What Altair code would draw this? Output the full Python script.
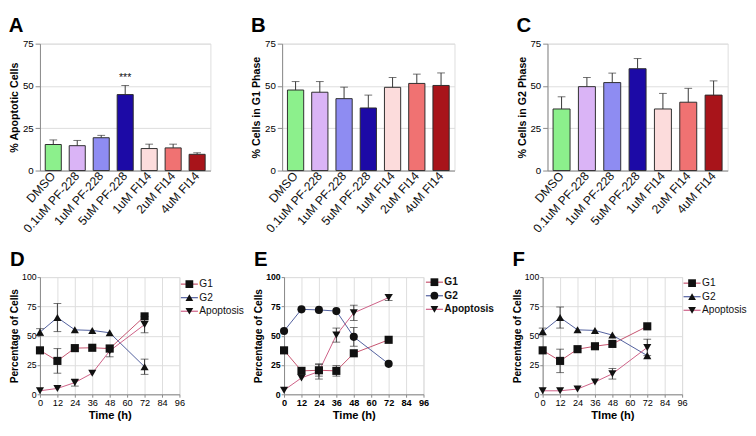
import altair as alt
import pandas as pd

FONT = "Liberation Sans"

# ---------------- data ----------------
categories = ["DMSO", "0.1uM PF-228", "1uM PF-228", "5uM PF-228", "1uM FI14", "2uM FI14", "4uM FI14"]
bar_colors = ["#8cf08c", "#dab4f6", "#8e8cf2", "#1c0aa6", "#fcdcdc", "#f07272", "#a8141a"]

apoptotic_mean = [15.4, 14.7, 19.4, 44.9, 13.0, 13.4, 9.6]
apoptotic_err = [2.7, 3.1, 1.4, 5.4, 2.6, 2.2, 0.9]
g1_phase_mean = [47.6, 46.3, 42.5, 37.0, 49.2, 51.5, 50.3]
g1_phase_err = [5.0, 6.3, 6.8, 7.6, 5.8, 5.5, 7.4]
g2_phase_mean = [36.4, 49.6, 52.0, 60.2, 36.4, 40.4, 44.6]
g2_phase_err = [7.2, 5.4, 5.6, 6.0, 9.2, 8.2, 8.4]
significance = ["", "", "", "***", "", "", ""]

hours = [0, 12, 24, 36, 48, 72]
time_ticks = [0, 12, 24, 36, 48, 60, 72, 84, 96]
series_names = ["G1", "G2", "Apoptosis"]
line_colors = ["#c4506c", "#4e5c9c", "#cc5c84"]

d_g1 = [37.5, 28.5, 39.4, 39.7, 39.0, 66.5]
d_g1_err = [0, 10.5, 0, 0, 0, 0]
d_g2 = [53.0, 65.5, 55.0, 54.5, 52.5, 23.5]
d_g2_err = [3.0, 12.0, 0, 0, 0, 6.5]
d_apo = [3.0, 5.0, 10.0, 18.0, 37.0, 59.5]
d_apo_err = [0, 0, 3.0, 0, 5.0, 7.0]

e_g1 = [37.5, 20.0, 20.5, 20.0, 35.0, 46.5]
e_g1_err = [0, 0, 5.0, 4.5, 0, 0]
e_g2 = [54.0, 72.5, 72.0, 71.0, 49.0, 26.0]
e_g2_err = [0, 0, 0, 0, 8.0, 0]
e_apo = [3.5, 14.0, 19.5, 50.5, 69.5, 82.5]
e_apo_err = [0, 0, 6.5, 6.0, 6.5, 2.5]

f_g1 = [37.5, 28.5, 38.5, 41.0, 43.0, 58.0]
f_g1_err = [0, 10.0, 0, 0, 0, 0]
f_g2 = [53.5, 65.5, 55.0, 54.5, 50.5, 33.0]
f_g2_err = [3.0, 9.0, 0, 0, 0, 0]
f_apo = [3.0, 3.0, 4.5, 10.5, 17.5, 40.0]
f_apo_err = [0, 0, 0, 0, 4.5, 7.0]

INK = "#222222"


def letter_title(letter, offset):
    return alt.TitleParams(letter, anchor="start", frame="bounds", fontSize=21, fontWeight="bold",
                           font=FONT, offset=offset, color="black")


def indep(ch):
    return ch.resolve_scale(color="independent", shape="independent").resolve_legend(
        color="independent", shape="independent")


def bar_panel(letter, mean, err, ytitle, w, h, stars=None):
    df = pd.DataFrame({
        "cond": categories,
        "mean": mean,
        "upper": [m + e for m, e in zip(mean, err)],
        "stars": stars if stars else [""] * len(categories),
    })
    xenc = alt.X("cond:N", sort=categories,
                 scale=alt.Scale(paddingInner=0.33, paddingOuter=0.22),
                 axis=alt.Axis(title=None, labelAngle=-48, ticks=False, labelFontSize=12.5,
                               labelPadding=3, labelColor="#111"))

    def Y(field):
        return alt.Y(field, scale=alt.Scale(domain=[0, 75], nice=False),
                     axis=alt.Axis(values=[0, 25, 50, 75], title=ytitle, titleFontSize=11,
                                   titleFontWeight="bold", labelFontSize=10, titlePadding=3,
                                   labelPadding=2))

    base = alt.Chart(df)
    bars = base.mark_bar(stroke="#2a2a2a", strokeWidth=1).encode(
        x=xenc, y=Y("mean:Q"),
        color=alt.Color("cond:N", scale=alt.Scale(domain=categories, range=bar_colors), legend=None),
    )
    rule = base.mark_rule(color="#333", strokeWidth=1).encode(x=xenc, y=Y("mean:Q"), y2="upper:Q")
    cap = base.mark_tick(color="#333", size=8, thickness=1, orient="horizontal").encode(
        x=xenc, y=Y("upper:Q"))
    layers = [bars, rule, cap]
    if stars:
        txt = base.mark_text(dy=-8, fontSize=11, font=FONT, color="#111").encode(
            x=xenc, y=Y("upper:Q"), text="stars:N")
        layers.append(txt)
    return alt.layer(*layers).properties(width=w, height=h, title=letter_title(letter, 3))


def line_panel(letter, g1, g1e, g2, g2e, ap, ape, shapes, xtitle, w, h, legx, legy, bold=False):
    rows = []
    for name, vals, errs in zip(series_names, [g1, g2, ap], [g1e, g2e, ape]):
        for t, v, e in zip(hours, vals, errs):
            rows.append({"series": name, "marker": name, "time": t, "value": v,
                         "lo": (v - e) if e else None, "hi": (v + e) if e else None})
    df = pd.DataFrame(rows)
    edf = df.dropna()
    weight = "bold" if bold else "normal"

    def X():
        return alt.X("time:Q", scale=alt.Scale(domain=[0, 96], nice=False, zero=False),
                     axis=alt.Axis(values=time_ticks, tickCount=9, title=xtitle, titleFontSize=11.5,
                                   titleFontWeight="bold", labelFontSize=9.5, titlePadding=3,
                                   labelPadding=1, tickSize=3, labelFontWeight=weight,
                                   labelOverlap=False, labelFlush=False))

    def Y(field):
        return alt.Y(field, scale=alt.Scale(domain=[0, 100], nice=False),
                     axis=alt.Axis(values=[0, 25, 50, 75, 100], tickCount=5,
                                   title="Percentage of Cells", titleFontSize=10.5,
                                   titleFontWeight="bold", labelFontSize=9, titlePadding=2,
                                   labelPadding=1, tickSize=3, labelFontWeight=weight,
                                   labelOverlap=False, labelFlush=False))

    lines = alt.Chart(df).mark_line(strokeWidth=1).encode(
        x=X(), y=Y("value:Q"),
        color=alt.Color("series:N", sort=series_names,
                        scale=alt.Scale(range=line_colors),
                        legend=alt.Legend(title=None, orient="none", legendX=legx, legendY=legy,
                                          symbolType="M-2.2,0H2.2", symbolSize=64,
                                          symbolStrokeWidth=1.2, labelFontSize=10.5,
                                          labelFontWeight=weight, labelOffset=5,
                                          rowPadding=3, labelColor="#111")),
    )
    rule = alt.Chart(edf).mark_rule(color="#333", strokeWidth=1).encode(
        x=X(), y=Y("lo:Q"), y2="hi:Q")
    cap_lo = alt.Chart(edf).mark_tick(color="#333", size=8, thickness=1, orient="horizontal").encode(
        x=X(), y=Y("lo:Q"))
    cap_hi = alt.Chart(edf).mark_tick(color="#333", size=8, thickness=1, orient="horizontal").encode(
        x=X(), y=Y("hi:Q"))
    pts = alt.Chart(df).mark_point(filled=True, size=70, color="#111", opacity=1).encode(
        x=X(), y=Y("value:Q"),
        shape=alt.Shape("marker:N", sort=series_names,
                        scale=alt.Scale(domain=series_names, range=shapes),
                        legend=alt.Legend(title=None, orient="none", legendX=legx, legendY=legy,
                                          symbolSize=64, symbolFillColor="#111",
                                          symbolStrokeWidth=0, labelFontSize=10.5,
                                          labelExpr="''", rowPadding=3, labelOffset=5)),
    )
    return alt.layer(lines, rule, cap_lo, cap_hi, pts).properties(
        width=w, height=h, title=letter_title(letter, 3))


A = bar_panel("A", apoptotic_mean, apoptotic_err, "% Apoptotic Cells", 176, 131, stars=significance)
B = bar_panel("B", g1_phase_mean, g1_phase_err, "% Cells in G1 Phase", 178, 131)
C = bar_panel("C", g2_phase_mean, g2_phase_err, "% Cells in G2 Phase", 186, 131)

D = line_panel("D", d_g1, d_g1_err, d_g2, d_g2_err, d_apo, d_apo_err,
               ["square", "triangle-up", "triangle-down"], "Time (h)", 144, 121, 149, 2)
E = line_panel("E", e_g1, e_g1_err, e_g2, e_g2_err, e_apo, e_apo_err,
               ["square", "circle", "triangle-down"], "Time (h)", 144, 121, 150, 0, bold=True)
F = line_panel("F", f_g1, f_g1_err, f_g2, f_g2_err, f_apo, f_apo_err,
               ["square", "triangle-up", "triangle-down"], "TIme (h)", 144, 121, 149, 1)

top = indep(alt.hconcat(indep(alt.hconcat(A, B, spacing=40)), C, spacing=62))
bottom = indep(alt.hconcat(indep(alt.hconcat(D, E, spacing=8)), F, spacing=17))

chart = indep(alt.vconcat(top, bottom, spacing=14)).properties(
    padding={"left": 0, "top": 0, "right": 0, "bottom": 0}
).configure_view(stroke=None).configure_axis(
    grid=False, domainColor=INK, tickColor=INK, labelColor="#111", titleColor="#111",
    labelFont=FONT, titleFont=FONT, tickSize=4
).configure_legend(labelFont=FONT).configure(font=FONT, background="white")

chart.save("out.html", embed_options={"renderer": "svg", "actions": False})
